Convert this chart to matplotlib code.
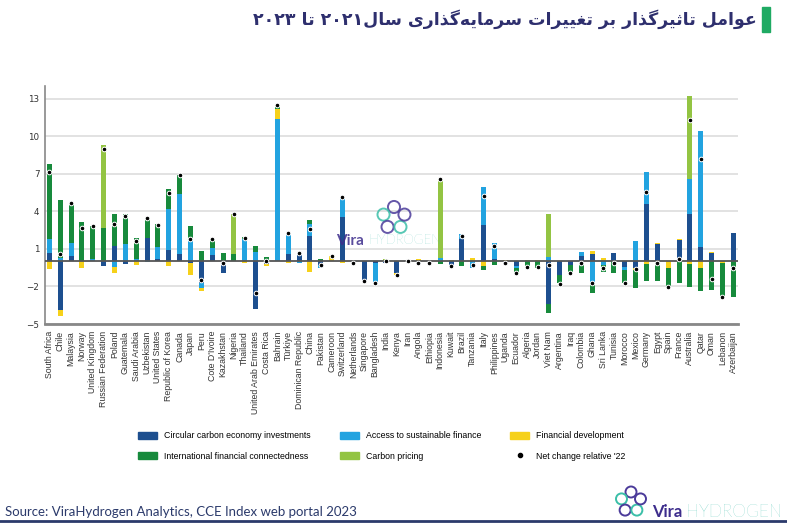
"""
Drivers of investment change 2021-2023 — stacked contribution bars per country.
"""

import re

import matplotlib
matplotlib.use("Agg")
import matplotlib.pyplot as plt
import numpy as np
from matplotlib.patches import Circle, Patch, Rectangle
from matplotlib.lines import Line2D

# ---------------------------------------------------------------- data
countries = [
    "South Africa", "Chile", "Malaysia", "Norway", "United Kingdom",
    "Russian Federation", "Poland", "Guatemala", "Saudi Arabia", "Uzbekistan",
    "United States", "Republic of Korea", "Canada", "Japan", "Peru",
    "Cote D'Ivoire", "Kazakhstan", "Nigeria", "Thailand", "United Arab Emirates",
    "Costa Rica", "Bahrain", "Türkiye", "Dominican Republic", "China",
    "Pakistan", "Cameroon", "Switzerland", "Netherlands", "Singapore",
    "Bangladesh", "India", "Kenya", "Iran", "Angola",
    "Ethiopia", "Indonesia", "Kuwait", "Brazil", "Tanzania",
    "Italy", "Philippines", "Uganda", "Ecuador", "Algeria",
    "Jordan", "Viet Nam", "Argentina", "Iraq", "Colombia",
    "Ghana", "Sri Lanka", "Tunisia", "Morocco", "Mexico",
    "Germany", "Egypt", "Spain", "France", "Australia",
    "Qatar", "Oman", "Lebanon", "Azerbaijan",
]

circular_carbon = [
    0.7, -3.9, 0.4, 0, 0,
    -0.35, 1.25, -0.2, 0, 1.9,
    0.15, 0.9, 0.6, -0.15, -1.75,
    0.5, -0.95, 0, 0, -3.8,
    -0.2, 0, 0.55, 0.7, 2.05,
    -0.25, 0, 3.55, -0.15, -1.45,
    -0.15, -0.1, -0.95, 0.05, -0.2,
    -0.15, 0, -0.4, 1.75, 0,
    2.9, 0.2, -0.25, -0.4, 0,
    0, -3.4, -1.1, -0.3, 0.4,
    0.55, 0, 0.7, -0.45, -0.55,
    4.55, 1.35, 0, 1.7, 3.75,
    1.15, 0.65, 0, 2.25,
]
sustainable_finance = [
    1.1, 0.3, 1.05, 0, 0.2,
    0, -0.45, 1.4, 0.2, -0.05,
    1.0, 3.3, 4.8, 1.8, -0.35,
    0.6, 0, 0, 1.75, 0.75,
    0, 11.35, 1.65, -0.1, 0.95,
    -0.25, 0, 1.5, 0, -0.15,
    -1.55, 0, 0, 0, 0,
    0, 0.3, 0, 0.45, -0.5,
    3.0, 1.3, 0, -0.15, 0,
    0, 0.35, 0, 0, 0.35,
    -1.75, -0.25, 0, -0.2, 1.6,
    2.6, 0, 0, 0, 2.8,
    9.25, 0, 0, 0,
]
financial_dev = [
    -0.6, -0.45, 0, -0.5, 0,
    0, -0.45, 0, -0.25, 0,
    0, -0.35, 0, -0.95, -0.25,
    0, 0, 0, -0.1, 0,
    -0.15, 0.8, -0.15, 0, -0.85,
    0, 0.4, -0.1, 0, 0,
    0, 0, -0.1, 0, 0.15,
    0.05, 0, 0.1, 0, 0.25,
    -0.4, 0, 0.1, 0, 0,
    0.1, 0, 0, 0.05, 0,
    0.25, 0.3, 0, 0, -0.15,
    -0.2, 0.1, -0.5, 0.1, -0.2,
    -0.5, 0.1, -0.15, 0,
]
intl_connectedness = [
    5.95, 4.6, 3.2, 3.15, 2.65,
    2.65, 2.55, 2.4, 1.7, 1.65,
    1.8, 1.6, 1.5, 1.0, 0.8,
    0.7, 0.7, 0.55, 0.2, 0.45,
    0.35, 0.3, 0, 0, 0.3,
    0.2, 0, 0, 0, 0,
    0, 0, 0, 0, 0,
    0, -0.2, 0, -0.35, 0,
    -0.3, -0.3, 0, -0.35, -0.4,
    -0.5, -0.7, -0.65, -0.55, -0.9,
    -0.75, -0.6, -0.95, -1.05, -1.45,
    -1.4, -1.55, -1.55, -1.7, -1.85,
    -1.85, -2.25, -2.7, -2.85,
]
carbon_pricing = [
    0, 0, 0, 0, 0,
    6.65, 0, 0, 0, 0,
    0, 0, 0, 0, 0,
    0, 0, 3.25, 0, 0,
    0, 0, 0, 0, 0,
    0, 0, 0, 0, 0,
    0, 0.15, 0, 0, 0,
    0, 6.25, 0, 0, 0,
    0, 0, 0, 0, 0.1,
    0, 3.4, 0, 0, 0,
    0, 0, 0, 0, 0,
    0, 0, 0, 0, 6.65,
    0, 0, 0, 0,
]
net_change = [
    7.1, 0.55, 4.65, 2.65, 2.8,
    8.95, 2.95, 3.65, 1.6, 3.5,
    2.9, 5.45, 6.9, 1.75, -1.5,
    1.8, -0.1, 3.8, 1.9, -2.55,
    0.0, 12.45, 2.25, 0.7, 2.55,
    -0.3, 0.45, 5.15, -0.15, -1.6,
    -1.7, 0.05, -1.05, 0.05, -0.1,
    -0.1, 6.6, -0.35, 2.0, -0.25,
    5.2, 1.25, -0.15, -0.9, -0.45,
    -0.45, -0.3, -1.8, -0.9, -0.1,
    -1.7, -0.5, -0.15, -1.7, -0.6,
    5.55, -0.1, -2.05, 0.2, 11.25,
    8.15, -1.4, -2.85, -0.5,
]

series_labels = [
    "Circular carbon economy investments",
    "Access to sustainable finance",
    "Financial development",
    "International financial connectedness",
    "Carbon pricing",
]
series_colors = ["#1d4f8f", "#22a3e0", "#f6d11a", "#178a3c", "#93c443"]
y_ticks = [-5, -2, 1, 4, 7, 10, 13]

title_fa = "عوامل تاثیرگذار بر تغییرات سرمایه\u200cگذاری سال۲۰۲۱ تا ۲۰۲۳"
source_text = "Source: ViraHydrogen Analytics, CCE Index web portal 2023"

# ---------------------------------------------------------------- persian shaping
# isolated, final, initial, medial (two entries = letter never joins to the next one)
FORMS = {
    "ع": ("\uFEC9", "\uFECA", "\uFECB", "\uFECC"),
    "غ": ("\uFECD", "\uFECE", "\uFECF", "\uFED0"),
    "م": ("\uFEE1", "\uFEE2", "\uFEE3", "\uFEE4"),
    "ل": ("\uFEDD", "\uFEDE", "\uFEDF", "\uFEE0"),
    "ت": ("\uFE95", "\uFE96", "\uFE97", "\uFE98"),
    "ث": ("\uFE99", "\uFE9A", "\uFE9B", "\uFE9C"),
    "ب": ("\uFE8F", "\uFE90", "\uFE91", "\uFE92"),
    "س": ("\uFEB1", "\uFEB2", "\uFEB3", "\uFEB4"),
    "ه": ("\uFEE9", "\uFEEA", "\uFEEB", "\uFEEC"),
    "ی": ("\uFBFC", "\uFBFD", "\uFBFE", "\uFBFF"),
    "گ": ("\uFB92", "\uFB93", "\uFB94", "\uFB95"),
    "ا": ("\uFE8D", "\uFE8E"),
    "و": ("\uFEED", "\uFEEE"),
    "ر": ("\uFEAD", "\uFEAE"),
    "ذ": ("\uFEAB", "\uFEAC"),
}


def shape_fa(text):
    """Pick contextual glyph forms and return the string in visual order."""
    out = []
    for i, c in enumerate(text):
        if c not in FORMS:
            if c != "\u200c":
                out.append(c)
            continue
        prev = text[i - 1] if i > 0 else ""
        nxt = text[i + 1] if i + 1 < len(text) else ""
        from_prev = prev in FORMS and len(FORMS[prev]) == 4
        to_next = len(FORMS[c]) == 4 and nxt in FORMS
        f = FORMS[c]
        if from_prev and to_next:
            out.append(f[3])
        elif from_prev:
            out.append(f[1])
        elif to_next:
            out.append(f[2])
        else:
            out.append(f[0])
    visual = "".join(out)[::-1]
    return re.sub(r"[۰-۹0-9]+", lambda m: m.group(0)[::-1], visual)


# ---------------------------------------------------------------- figure
W, H = 787, 524
fig = plt.figure(figsize=(W / 100, H / 100), dpi=100)
ax = fig.add_axes([45 / W, 1 - 324 / H, 693 / W, 238 / H])

x = np.arange(len(countries))
pos_base = np.zeros(len(countries))
neg_base = np.zeros(len(countries))
series = [circular_carbon, sustainable_finance, financial_dev,
          intl_connectedness, carbon_pricing]
for vals, color in zip(series, series_colors):
    v = np.asarray(vals, dtype=float)
    bottom = np.where(v >= 0, pos_base, neg_base)
    ax.bar(x, v, bottom=bottom, width=0.46, color=color, zorder=3)
    pos_base += np.clip(v, 0, None)
    neg_base += np.clip(v, None, 0)

ax.scatter(x, net_change, s=11, color="black", edgecolor="white",
           linewidth=0.7, zorder=5)
ax.axhline(0, color="#555555", lw=1.3, zorder=4)

ax.set_xlim(-0.4, len(countries) - 0.57)
ax.set_ylim(-5, 14)
ax.set_yticks(y_ticks)
ax.set_xticks(x)
ax.set_xticklabels(countries, rotation=90, fontsize=6.3, color="#333333",
                   family="Liberation Sans")
ax.tick_params(axis="y", length=0, labelsize=6.3, labelcolor="#333333", pad=4)
ax.tick_params(axis="x", length=0, pad=5)
ax.grid(axis="y", color="#dddddd", lw=1.2, zorder=0)
for side in ("top", "right"):
    ax.spines[side].set_visible(False)
ax.spines["left"].set_color("#888888")
ax.spines["left"].set_linewidth(1.2)
ax.spines["bottom"].set_color("#888888")
ax.spines["bottom"].set_linewidth(2)

# legend: matplotlib fills columns first, so interleave to get the reference rows
handles = [Patch(color=c, label=l) for c, l in zip(series_colors, series_labels)]
net_handle = Line2D([], [], marker="o", ls="", color="black", markersize=3,
                    label="Net change relative '22")
order = [handles[0], handles[3], handles[1], handles[4], handles[2], net_handle]
fig.legend(handles=order, loc="center", bbox_to_anchor=(0.485, 1 - 446 / H),
           ncol=3, frameon=False, handlelength=2.2, handleheight=0.8,
           columnspacing=3.3, labelspacing=1.3,
           prop={"family": "Liberation Sans", "size": 6.3})

# ---------------------------------------------------------------- decorations
over = fig.add_axes([0, 0, 1, 1], zorder=10)
over.set_xlim(0, W)
over.set_ylim(H, 0)
over.axis("off")
over.patch.set_alpha(0)


def draw_logo(cx, cy, r, alpha=1.0):
    ang = np.deg2rad(90 + 72 * np.arange(5))
    for k, a in enumerate(ang):
        col = "#4b3b9a" if k % 2 == 0 else "#3bbfa8"
        over.add_patch(Circle((cx + r * np.cos(a), cy - r * np.sin(a)), r * 0.55,
                              fill=False, ec=col, lw=1.4, alpha=alpha))


draw_logo(394, 218, 11, alpha=0.85)
over.text(336, 241, "Vira", fontsize=11, fontweight="bold", color="#3d2d8c",
          family="Lato", va="center", ha="left", alpha=0.85)
over.text(368, 241, "HYDROGEN", fontsize=9.5, fontweight="light",
          color="#48c1b0", family="Lato", va="center", ha="left", alpha=0.85)

draw_logo(631, 502, 10)
over.text(652, 512, "Vira", fontsize=12, fontweight="bold", color="#3d2d8c",
          family="Lato", va="center", ha="left")
over.text(686, 512, "HYDROGEN", fontsize=12.5, fontweight="light",
          color="#48c1b0", family="Lato", va="center", ha="left")

over.text(5, 512, source_text, fontsize=9.5, color="#2b3a6b", family="Lato",
          va="center", ha="left")
over.plot([0, W], [521, 521], color="#2b3a6b", lw=2)

over.add_patch(Rectangle((762, 7), 8, 25, color="#1faa63"))
over.text(757, 19, shape_fa(title_fa), fontsize=12.5, fontweight="bold",
          color="#2e2f6e", family="DejaVu Sans", va="center", ha="right")

fig.savefig("out.png", dpi=100)
